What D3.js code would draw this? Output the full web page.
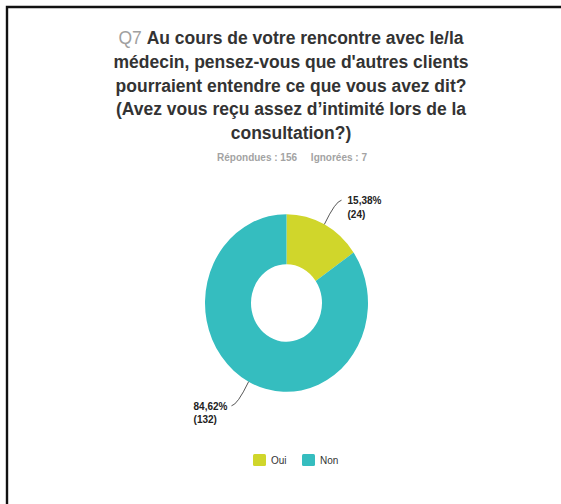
<!DOCTYPE html>
<html>
<head>
<meta charset="utf-8">
<script src="https://cdn.jsdelivr.net/npm/d3@7/dist/d3.min.js"></script>
<style>
    body { margin: 0; background: #ffffff; }
    svg text { font-family: "Liberation Sans", Arial, sans-serif; }
</style>
</head>
<body>
<div id="chart"></div>
<script>

const categories = ["Oui", "Non"];
const counts = [24, 132];
const colors = ["#d0d62b", "#35bdbf"];
const questionNo = "Q7";
const titleLines = [
    "Au cours de votre rencontre avec le/la",
    "médecin, pensez-vous que d'autres clients",
    "pourraient entendre ce que vous avez dit?",
    "(Avez vous reçu assez d’intimité lors de la",
    "consultation?)"
];
const answered = 156;
const skipped = 7;

class DonutView {
    constructor(container) {
        this.container = container;
        this.width = 561;
        this.height = 504;
        this.center = { x: 286.5, y: 303 };
        this.outer = 81.5;
        this.inner = 35.5;
        this.squash = 1.09; // picture is a bit taller than wide
    }

    render() {
        const svg = d3.select("#" + this.container)
            .append("svg")
            .attr("width", this.width)
            .attr("height", this.height)

        // frame (only top + left are visible)
        svg.append("path")
            .attr("d", `M7,${this.height} L7,7 L${this.width},7`)
            .attr("fill", "none")
            .attr("stroke", "#111")
            .attr("stroke-width", 2.4)

        this.renderTitle(svg);
        this.renderDonut(svg);
        this.renderLegend(svg);
    }

    renderTitle(svg) {
        titleLines.forEach((line, i) => {
            const title = svg.append("text")
                .attr("text-anchor", "middle")
                .attr("transform", `translate(291,${44 + i * 23.8}) scale(1,1.07)`)
                .style("font-size", "17.5px")
                .style("font-weight", "bold")
                .style("fill", "#333")
            if (i == 0) {
                title.append("tspan")
                    .style("fill", "#a0a0a0")
                    .style("font-weight", "normal")
                    .text(questionNo + " ")
            }
            title.append("tspan").text(line)
        })

        svg.append("text")
            .attr("transform", "translate(292,161) scale(1,1.07)")
            .attr("text-anchor", "middle")
            .style("font-size", "10px")
            .style("font-weight", "bold")
            .style("fill", "#a3a3a3")
            .attr("xml:space", "preserve")
            .text(`Répondues : ${answered}     Ignorées : ${skipped}`)
    }

    renderDonut(svg) {
        const total = d3.sum(counts);
        const pie = d3.pie().sort(null).value(d => d.value);
        const slices = pie(categories.map((c, i) => ({ name: c, value: counts[i], color: colors[i] })));

        const arc = d3.arc()
            .innerRadius(this.inner)
            .outerRadius(this.outer)

        const donut = svg.append("g")
            .attr("transform", `translate(${this.center.x},${this.center.y}) scale(1,${this.squash})`)

        donut.selectAll("path")
            .data(slices)
            .join("path")
            .attr("d", arc)
            .attr("fill", d => d.data.color)

        //LEADER LINES + LABELS
        const labels = svg.append("g")
        slices.forEach(s => {
            const mid = (s.startAngle + s.endAngle) / 2;
            const dx = Math.sin(mid), dy = -Math.cos(mid) * this.squash;
            const side = dx >= 0 ? 1 : -1;
            const p0 = [this.center.x + this.outer * dx, this.center.y + this.outer * dy];
            const p1 = [this.center.x + (this.outer + 24) * dx, this.center.y + (this.outer + 24) * dy];
            const p2 = [p1[0] + side * 6, p1[1] - side * 1];

            labels.append("path")
                .attr("d", `M${p0[0]},${p0[1]} Q${p1[0]},${p1[1]} ${p2[0]},${p2[1]}`)
                .attr("fill", "none")
                .attr("stroke", "#444")
                .attr("stroke-width", 0.9)

            const pct = (s.data.value / total * 100).toFixed(2).replace(".", ",") + "%";
            const txt = labels.append("text")
                .style("font-size", "10px")
                .style("font-weight", "bold")
                .style("fill", "#222")
            const l1 = txt.append("tspan").attr("y", p2[1] + 4).text(pct);
            const l2 = txt.append("tspan").attr("y", p2[1] + 17.5).text(`(${s.data.value})`);
            const w = Math.max(l1.node().getComputedTextLength(), l2.node().getComputedTextLength());
            const x = side > 0 ? p2[0] + 6 : p2[0] - 4 - w;
            l1.attr("x", x);
            l2.attr("x", x);
        })
    }

    renderLegend(svg) {
        const legendX = d3.scalePoint()
            .domain(categories)
            .range([253, 302])

        const item = svg.append("g")
            .selectAll("g")
            .data(categories)
            .join("g")
            .attr("transform", d => `translate(${legendX(d)},454)`)

        item.append("rect")
            .attr("width", 13)
            .attr("height", 12)
            .attr("rx", 1.5)
            .attr("fill", (d, i) => colors[i])

        item.append("text")
            .attr("x", 18)
            .attr("y", 10)
            .style("font-size", "10px")
            .style("fill", "#333")
            .text(d => d)
    }
}

const view = new DonutView("chart");
view.render();
</script>
</body>
</html>
